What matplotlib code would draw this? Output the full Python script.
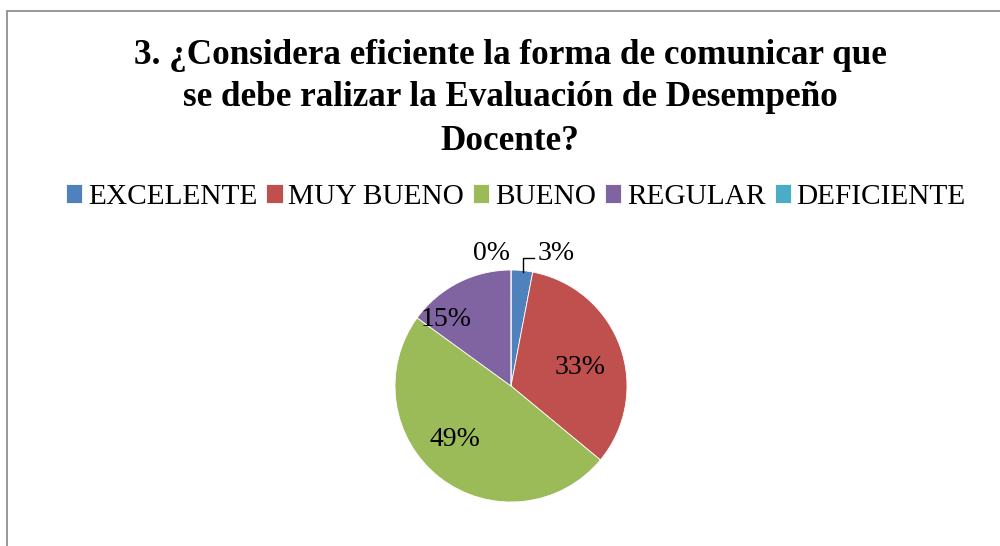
import matplotlib
matplotlib.use("Agg")
import matplotlib.pyplot as plt
from matplotlib.patches import Rectangle
import matplotlib.lines as mlines

plt.rcParams['font.family'] = ['Liberation Serif', 'DejaVu Serif']

categories = ["EXCELENTE", "MUY BUENO", "BUENO", "REGULAR", "DEFICIENTE"]
values = [3, 33, 49, 15, 0]
labels_text = ["3%", "33%", "49%", "15%", "0%"]
colors = ["#4F81BD", "#C0504D", "#9BBB59", "#8064A2", "#4BACC6"]
title = "3. ¿Considera eficiente la forma de comunicar que\nse debe ralizar la Evaluación de Desempeño\nDocente?"

W, H = 1000, 546
fig = plt.figure(figsize=(W / 100, H / 100), dpi=100)

# chart border (only top and left visible)
fig.patches.append(Rectangle((7 / W, -0.1), 1.2, 1 - 11 / H + 0.1, transform=fig.transFigure,
                             fill=False, edgecolor="#868686", linewidth=1.2))

cx, cy, r = 511, 386, 116
ax = fig.add_axes([(cx - r) / W, (H - cy - r) / H, 2 * r / W, 2 * r / H])
wedges, _ = ax.pie(values, colors=colors, startangle=90, counterclock=False,
                   radius=1.0, wedgeprops=dict(linewidth=0.6, edgecolor="white"))
ax.set_xlim(-1, 1)
ax.set_ylim(-1, 1)
ax.set_aspect("equal")
ax.axis("off")

def to_data(px, py):
    return ((px - cx) / r, (cy - py) / r)

label_pos = {
    "3%": (556, 253),
    "33%": (580, 368),
    "49%": (455, 440),
    "15%": (446, 320),
    "0%": (492, 253),
}
for lt in labels_text:
    x, y = to_data(*label_pos[lt])
    ax.text(x, y, lt, ha="center", va="center", fontsize=20, color="black", clip_on=False)

# leader line for 3%
pts = [to_data(523, 272), to_data(523, 258), to_data(534, 258)]
ax.add_line(mlines.Line2D([p[0] for p in pts], [p[1] for p in pts], color="black",
                          linewidth=1.0, clip_on=False))

fig.text(510 / W, 1 - 98 / H, title, ha="center", va="center", fontsize=25.3,
         fontweight="bold", linespacing=1.4)

leg = fig.legend(wedges, categories, loc="center", bbox_to_anchor=(516 / W, 1 - 197 / H),
                 ncol=5, frameon=False, fontsize=21.2, handlelength=0.55, handleheight=0.6,
                 handletextpad=0.2, columnspacing=0.3, borderaxespad=0, borderpad=0)

fig.savefig("out.png", dpi=100)
